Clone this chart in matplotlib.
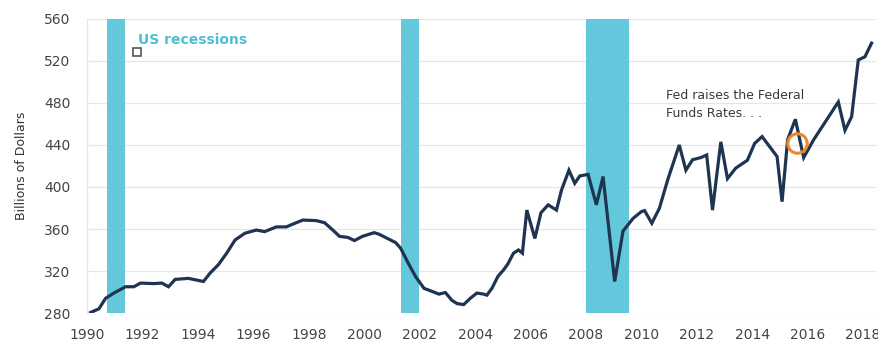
import matplotlib
matplotlib.use("Agg")
from matplotlib import pyplot as plt

# Quarterly series, billions of dollars
years = [
    1990.13, 1990.43, 1990.67, 1990.97, 1991.39, 1991.69, 1991.93, 1992.41,
    1992.70, 1992.94, 1993.18, 1993.66, 1994.20, 1994.44, 1994.74, 1995.04,
    1995.34, 1995.70, 1996.11, 1996.41, 1996.83, 1997.19, 1997.55, 1997.79,
    1998.27, 1998.57, 1998.87, 1999.11, 1999.41, 1999.65, 1999.94, 2000.36,
    2000.54, 2000.84, 2001.14, 2001.32, 2001.62, 2001.86, 2002.16, 2002.46,
    2002.70, 2002.93, 2003.17, 2003.35, 2003.59, 2003.83, 2004.07, 2004.31,
    2004.43, 2004.61, 2004.83, 2005.03, 2005.18, 2005.39, 2005.57, 2005.71,
    2005.87, 2006.16, 2006.38, 2006.64, 2006.94, 2007.12, 2007.39, 2007.60,
    2007.78, 2008.08, 2008.38, 2008.62, 2009.04, 2009.34, 2009.70, 2010.00,
    2010.12, 2010.38, 2010.65, 2010.95, 2011.37, 2011.61, 2011.85, 2012.15,
    2012.36, 2012.57, 2012.87, 2013.11, 2013.41, 2013.83, 2014.09, 2014.36,
    2014.90, 2015.08, 2015.28, 2015.56, 2015.86, 2016.22, 2017.11, 2017.35,
    2017.59, 2017.83, 2018.07, 2018.31,
]
values = [
    280.5, 284, 294, 299, 305, 305, 308.5, 308,
    308.5, 305, 312, 313, 310, 318, 326, 337,
    349.5, 356, 359, 357.5, 362, 362, 366, 368.5,
    368, 366, 359, 353, 352, 349, 353, 356.5,
    355, 351, 347, 341.5, 326, 314.5, 303.5, 300.5,
    298, 299.5, 292, 289, 288, 294, 299, 298,
    297, 303.5, 315, 321, 326.5, 337, 340, 337,
    378, 351, 375.5, 383, 378, 397, 416, 403.5,
    410.5, 412, 383, 410, 310, 358, 370, 376.5,
    377.5, 365.5, 379.5, 406.5, 440, 416, 426, 428,
    430.5, 378, 443, 408, 418, 425.5, 441.5, 448,
    429, 386, 445, 464.5, 428, 445, 481, 454,
    467, 521, 524, 537,
]

# US recessions (start, end)
recessions = [(1990.72, 1991.36), (2001.34, 2001.99), (2008.02, 2009.56)]

x_ticks = list(range(1990, 2019, 2))
y_ticks = list(range(280, 561, 40))

# Fed rate hike marker
hike_year, hike_value = 2015.62, 441.6

NAVY = "#1e3450"
CYAN = "#63c8db"
ORANGE = "#f0852a"
GRID = "#e6e6e6"
TEXT = "#444444"

fig = plt.figure(figsize=(8.79, 3.44), dpi=100)
ax = fig.add_axes([0.099, 0.0901, 0.8976, 0.8547])

for start, end in recessions:
    ax.axvspan(start, end, color=CYAN, lw=0, zorder=1)

for v in y_ticks:
    ax.axhline(v, color=GRID, lw=0.9, zorder=0)

ax.plot(years, values, color=NAVY, lw=2.3, solid_joinstyle="miter", zorder=3)

ax.plot(hike_year, hike_value, "o", ms=14, mfc="none", mec=ORANGE, mew=2.2, zorder=4)

ax.text(2010.89, 493, "Fed raises the Federal\nFunds Rates. . .", fontsize=9,
        color="#3a3a3a", va="top", ha="left", linespacing=1.45, zorder=5)

# legend entry for the shaded bands
ax.plot(1991.8, 528.6, "s", ms=6, mfc="white", mec="#555555", mew=1.2, zorder=5)
ax.text(1991.85, 540, "US recessions", fontsize=10, fontweight="bold",
        color="#4fbfd6", va="center", ha="left", zorder=5)

ax.set_xlim(1990.14, 2018.47)
ax.set_ylim(280, 560)
ax.set_xticks(x_ticks)
ax.set_yticks(y_ticks)
ax.tick_params(axis="both", length=0, labelsize=10, labelcolor=TEXT)
ax.tick_params(axis="x", pad=11)
ax.tick_params(axis="y", pad=12)

for side in ["top", "right", "bottom"]:
    ax.spines[side].set_visible(False)
ax.spines["left"].set_color(GRID)
ax.spines["left"].set_linewidth(0.9)

fig.text(0.025, 0.517, "Billions of Dollars", rotation=90, fontsize=9,
         color="#333333", ha="center", va="center")

fig.savefig("out.png", dpi=100)
